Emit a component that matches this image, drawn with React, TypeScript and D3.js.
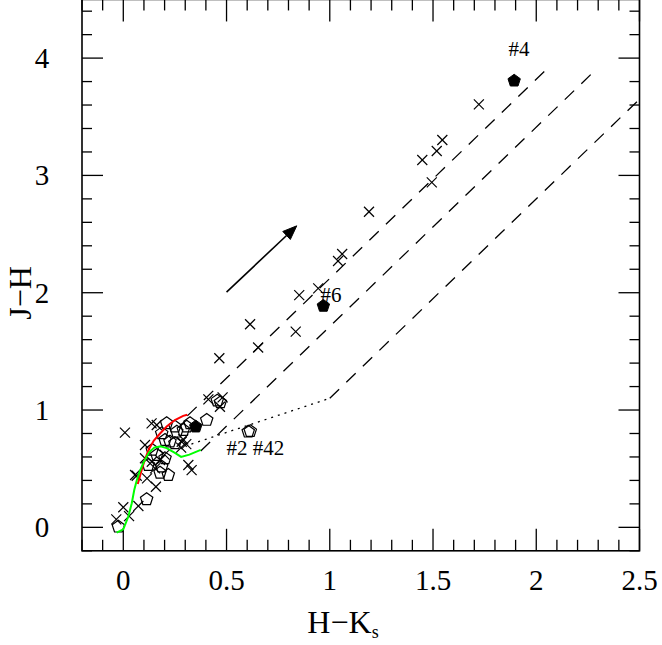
import React from "react";
import * as d3 from "d3";

const W = 662;
const H = 645;

// axis settings
const xTicksMajor = [0, 0.5, 1, 1.5, 2, 2.5];
const xTickLabels = ["0", "0.5", "1", "1.5", "2", "2.5"];
const yTicksMajor = [0, 1, 2, 3, 4];
const yTickLabels = ["0", "1", "2", "3", "4"];

// crosses: [H-Ks, J-H]
const crossX = [1.722, 1.545, 1.518, 1.448, 1.494, 1.19, 1.04, 1.06, 0.944, 0.852, 0.835, 0.614, 0.653, 0.465, 0.412, 0.481, 0.468,
  -0.034, 0.0, 0.028, 0.073, 0.065, 0.115, 0.158, 0.008, 0.137, 0.162, 0.105, 0.105, 0.138, 0.154, 0.178, 0.057, 0.315, 0.331,
  0.29, 0.305, 0.28, 0.283, 0.2];
const crossY = [3.606, 3.302, 3.208, 3.131, 2.941, 2.69, 2.27, 2.33, 2.037, 1.98, 1.668, 1.731, 1.533, 1.441, 1.091, 1.108, 1.028,
  0.068, 0.171, 0.096, 0.182, 0.44, 0.418, 0.346, 0.807, 0.886, 0.872, 0.702, 0.589, 0.559, 0.503, 0.574, 0.446, 0.531, 0.488,
  0.75, 0.71, 0.68, 0.73, 0.62];

// open pentagons
const pentX = [0.455, 0.47, 0.404, 0.605, 0.615, 0.307, -0.024, 0.113, 0.218, 0.186, 0.226, 0.162, 0.202, 0.186, 0.121, 0.25,
  0.21, 0.323, 0.291, 0.259, 0.202, 0.25, 0.178, 0.14];
const pentY = [1.08, 1.065, 0.915, 0.815, 0.82, 0.858, 0.005, 0.239, 0.446, 0.801, 0.73, 0.616, 0.588, 0.517, 0.531, 0.858,
  0.887, 0.887, 0.829, 0.815, 0.744, 0.716, 0.465, 0.66];

// filled pentagons
const fillX = [1.893, 0.969, 0.351];
const fillY = [3.807, 1.887, 0.858];

// giant branch (red)
const giantX = [0.07, 0.089, 0.105, 0.125, 0.148, 0.178, 0.21, 0.25, 0.29, 0.31];
const giantY = [0.37, 0.49, 0.58, 0.67, 0.74, 0.8, 0.86, 0.915, 0.95, 0.96];

// dwarf branch (green)
const dwarfX = [-0.032, 0.0, 0.024, 0.041, 0.053, 0.065, 0.08, 0.1, 0.125, 0.15, 0.18, 0.21, 0.25, 0.28, 0.32, 0.375];
const dwarfY = [-0.046, -0.017, 0.09, 0.205, 0.318, 0.4, 0.48, 0.56, 0.64, 0.68, 0.69, 0.675, 0.635, 0.6, 0.62, 0.66];

// reddening lines (dashed)
const red1X = [0.31, 2.065];
const red1Y = [0.95, 3.93];
const red2X = [0.375, 2.27];
const red2Y = [0.65, 3.87];
const red3X = [1.0, 2.5];
const red3Y = [1.1, 3.65];

// CTTS locus (dotted)
const cttsX = [0.33, 1.0];
const cttsY = [0.71, 1.1];

// reddening arrow
const arrowX = [0.5, 0.84];
const arrowY = [2.005, 2.57];

// labels
const labelText = ["#4", "#6", "#2 #42"];
const labelX = [1.865, 0.955, 0.5];
const labelY = [4.02, 1.92, 0.62];

const x = d3.scaleLinear().domain([-0.2, 2.5]).range([82, 639.5]);
const y = d3.scaleLinear().domain([-0.2, 4.5]).range([550.8, -0.55]);

const FONT = "'Liberation Serif', 'DejaVu Serif', serif";

function pentagonPath(cx: number, cy: number, r: number) {
  const pts: string[] = [];
  for (let i = 0; i < 5; i++) {
    const a = -Math.PI / 2 + (i * 2 * Math.PI) / 5;
    pts.push(`${cx + r * Math.cos(a)},${cy + r * Math.sin(a)}`);
  }
  return "M" + pts.join("L") + "Z";
}

function zip(xs: number[], ys: number[]): [number, number][] {
  return xs.map((v, i) => [v, ys[i]]);
}

export default function App() {
  const line = d3
    .line<[number, number]>()
    .x((d) => x(d[0]))
    .y((d) => y(d[1]));

  const xMinor = d3.range(-2, 26).map((i) => i / 10).filter((v) => !xTicksMajor.some((m) => Math.abs(m - v) < 1e-6));
  const yMinor = d3.range(-1, 23).map((i) => i / 5).filter((v) => !yTicksMajor.some((m) => Math.abs(m - v) < 1e-6));

  const [x0, x1] = x.range();
  const [yb, yt] = y.range();

  // arrow
  const ax0 = x(arrowX[0]);
  const ay0 = y(arrowY[0]);
  const ax1 = x(arrowX[1]);
  const ay1 = y(arrowY[1]);
  const ang = Math.atan2(ay1 - ay0, ax1 - ax0);
  const hl = 14;
  const hw = 5.5;
  const bx = ax1 - hl * Math.cos(ang);
  const by = ay1 - hl * Math.sin(ang);
  const head = `M${ax1},${ay1}L${bx + hw * Math.sin(ang)},${by - hw * Math.cos(ang)}L${bx - hw * Math.sin(ang)},${by + hw * Math.cos(ang)}Z`;

  const cs = 5;

  return (
    <svg
      width={W}
      height={H}
      style={{ position: "absolute", left: 0, top: 0, background: "#fff" }}
      xmlns="http://www.w3.org/2000/svg"
    >
      <defs>
        <clipPath id="plotclip">
          <rect x={x0} y={yt} width={x1 - x0} height={yb - yt} />
        </clipPath>
      </defs>
      <rect x={0} y={0} width={W} height={H} fill="#fff" />

      {/* ticks */}
      <g stroke="#000" strokeWidth={1.3}>
        {xTicksMajor.map((v) => (
          <g key={"xM" + v}>
            <line x1={x(v)} x2={x(v)} y1={yb} y2={yb - 22} />
            <line x1={x(v)} x2={x(v)} y1={yt} y2={yt + 22} />
          </g>
        ))}
        {xMinor.map((v) => (
          <g key={"xm" + v}>
            <line x1={x(v)} x2={x(v)} y1={yb} y2={yb - 11} />
            <line x1={x(v)} x2={x(v)} y1={yt} y2={yt + 11} />
          </g>
        ))}
        {yTicksMajor.map((v) => (
          <g key={"yM" + v}>
            <line x1={x0} x2={x0 + 21} y1={y(v)} y2={y(v)} />
            <line x1={x1} x2={x1 - 21} y1={y(v)} y2={y(v)} />
          </g>
        ))}
        {yMinor.map((v) => (
          <g key={"ym" + v}>
            <line x1={x0} x2={x0 + 10} y1={y(v)} y2={y(v)} />
            <line x1={x1} x2={x1 - 10} y1={y(v)} y2={y(v)} />
          </g>
        ))}
      </g>
      <rect x={x0} y={yt} width={x1 - x0} height={yb - yt} fill="none" stroke="#000" strokeWidth={1.6} />

      {/* tick labels */}
      <g fontFamily={FONT} fontSize={29} fill="#000">
        {xTicksMajor.map((v, i) => (
          <text key={"xl" + v} x={x(v)} y={590} textAnchor="middle">
            {xTickLabels[i]}
          </text>
        ))}
        {yTicksMajor.map((v, i) => (
          <text key={"yl" + v} x={42} y={y(v) + 10} textAnchor="middle">
            {yTickLabels[i]}
          </text>
        ))}
      </g>

      {/* axis titles */}
      <text x={343} y={633} textAnchor="middle" fontFamily={FONT} fontSize={32} fill="#000">
        H−K<tspan fontSize={18} dy={5}>s</tspan>
      </text>
      <text
        transform={`translate(31, 293) rotate(-90)`}
        textAnchor="middle"
        fontFamily={FONT}
        fontSize={32}
        fill="#000"
      >
        J−H
      </text>

      <g clipPath="url(#plotclip)">
        {/* reddening lines */}
        {[zip(red1X, red1Y), zip(red2X, red2Y), zip(red3X, red3Y)].map((pts, i) => (
          <path key={"r" + i} d={line(pts) || ""} fill="none" stroke="#000" strokeWidth={1.3} strokeDasharray="13 10" />
        ))}
        <path d={line(zip(cttsX, cttsY)) || ""} fill="none" stroke="#000" strokeWidth={1.3} strokeDasharray="2 5" />

        {/* arrow */}
        <line x1={ax0} y1={ay0} x2={bx} y2={by} stroke="#000" strokeWidth={1.6} />
        <path d={head} fill="#000" stroke="#000" strokeWidth={1} />

        {/* crosses */}
        <g stroke="#000" strokeWidth={1.2}>
          {crossX.map((v, i) => {
            const cx = x(v);
            const cy = y(crossY[i]);
            return (
              <g key={"c" + i}>
                <line x1={cx - cs} y1={cy - cs} x2={cx + cs} y2={cy + cs} />
                <line x1={cx - cs} y1={cy + cs} x2={cx + cs} y2={cy - cs} />
              </g>
            );
          })}
        </g>

        {/* open pentagons */}
        <g fill="none" stroke="#000" strokeWidth={1.2}>
          {pentX.map((v, i) => (
            <path key={"p" + i} d={pentagonPath(x(v), y(pentY[i]), 6.5)} />
          ))}
        </g>

        {/* curves */}
        <path d={line(zip(giantX, giantY)) || ""} fill="none" stroke="#ff0000" strokeWidth={2} />
        <path d={line(zip(dwarfX, dwarfY)) || ""} fill="none" stroke="#00ff00" strokeWidth={2} />

        {/* filled pentagons */}
        <g fill="#000" stroke="#000" strokeWidth={1}>
          {fillX.map((v, i) => (
            <path key={"f" + i} d={pentagonPath(x(v), y(fillY[i]), 6.5)} />
          ))}
        </g>
      </g>

      {/* labels */}
      <g fontFamily={FONT} fontSize={21} fill="#000">
        {labelText.map((t, i) => (
          <text key={"lab" + i} x={x(labelX[i])} y={y(labelY[i])}>
            {t}
          </text>
        ))}
      </g>
    </svg>
  );
}
